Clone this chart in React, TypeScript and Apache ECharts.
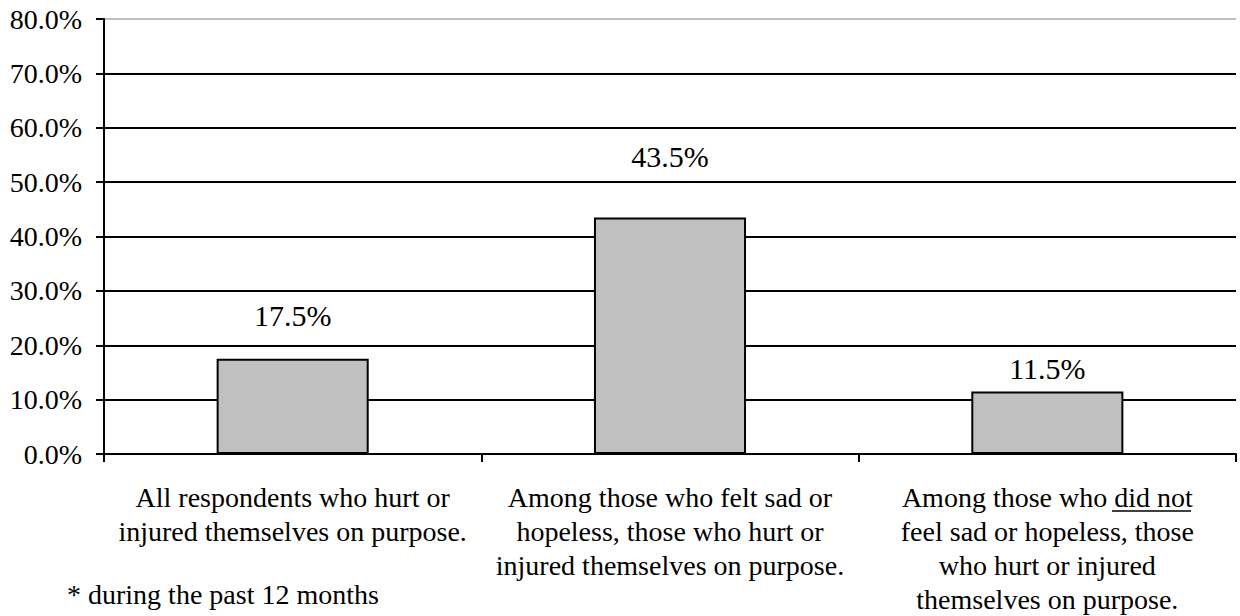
import React, { useEffect, useRef } from "react";
import * as echarts from "echarts";

const categories: string[] = [
  "All respondents who hurt or\ninjured themselves on purpose.",
  "Among those who felt sad or\nhopeless, those who hurt or\ninjured themselves on purpose.",
  "Among those who did not\nfeel sad or hopeless, those\nwho hurt or injured\nthemselves on purpose.",
];
const values: number[] = [17.5, 43.5, 11.5];
const labelDistances: number[] = [28, 46, 8];
const footnote = "* during the past 12 months";

const FONT = "Liberation Serif";

export default function App() {
  const ref = useRef<HTMLDivElement>(null);
  useEffect(() => {
    if (!ref.current) return;
    const chart = echarts.init(ref.current, null, { renderer: "svg" });
    const splitColors = ["#000", "#000", "#000", "#000", "#000", "#000", "#000", "#000", "#c0c0c0"];
    chart.setOption({
      animation: false,
      backgroundColor: "#fff",
      grid: {
        left: 104,
        right: 4,
        top: 19,
        bottom: 162,
        containLabel: false,
        outerBoundsMode: "none",
      },
      xAxis: {
        type: "category",
        data: categories,
        axisLine: { lineStyle: { color: "#000", width: 2 } },
        axisTick: { show: true, length: 8, lineStyle: { color: "#000", width: 2 } },
        axisLabel: {
          interval: 0,
          margin: 26,
          color: "#000",
          fontFamily: FONT,
          fontSize: 28,
          lineHeight: 34,
          align: "center",
        },
      },
      yAxis: {
        type: "value",
        min: 0,
        max: 80,
        interval: 10,
        axisLine: { show: true, lineStyle: { color: "#000", width: 2 } },
        axisTick: { show: true, length: 8, lineStyle: { color: "#000", width: 2 } },
        axisLabel: {
          margin: 22,
          color: "#000",
          fontFamily: FONT,
          fontSize: 28,
          formatter: (v: number) => v.toFixed(1) + "%",
        },
        splitLine: { show: true, lineStyle: { color: splitColors, width: 2 } },
      },
      series: [
        {
          type: "bar",
          barWidth: "40.3%",
          data: values.map((v, i) => ({
            value: v,
            label: { distance: labelDistances[i] },
          })),
          itemStyle: { color: "#c0c0c0", borderColor: "#000", borderWidth: 2 },
          label: {
            show: true,
            position: "top",
            color: "#000",
            fontFamily: FONT,
            fontSize: 30,
            formatter: (p: any) => p.value.toFixed(1) + "%",
          },
        },
      ],
      graphic: [
        {
          type: "text",
          left: 67,
          top: 580,
          style: { text: footnote, fill: "#000", fontFamily: FONT, fontSize: 28 },
        },
        {
          type: "line",
          shape: { x1: 1112, y1: 511, x2: 1191, y2: 511 },
          style: { stroke: "#000", lineWidth: 1.5 },
        },
      ],
    });
    return () => chart.dispose();
  }, []);
  return (
    <div
      ref={ref}
      style={{ position: "fixed", left: 0, top: 0, width: 1240, height: 616 }}
    />
  );
}
